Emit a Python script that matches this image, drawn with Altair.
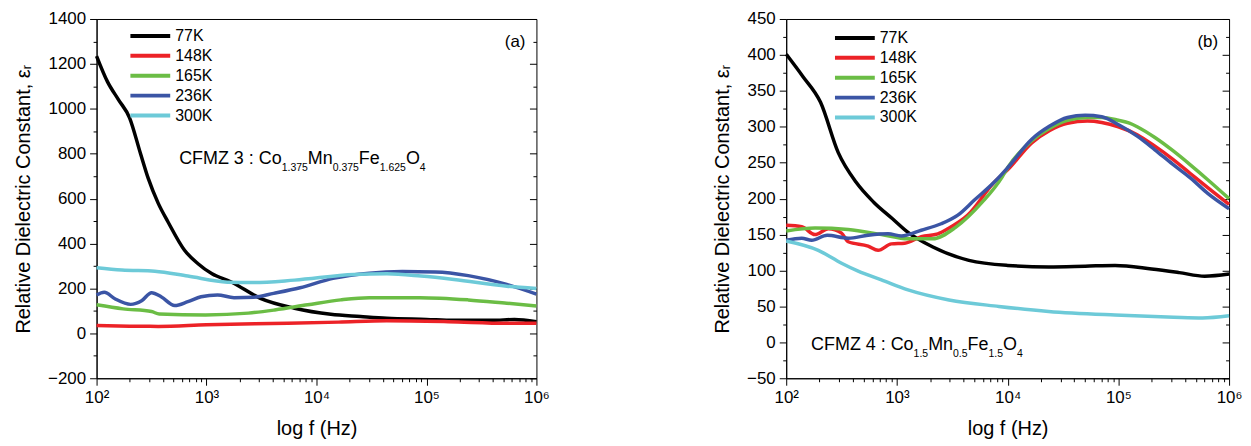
import altair as alt
import pandas as pd

TEMPS = ["77K", "148K", "165K", "236K", "300K"]
COLORS = ["#000000", "#ec2227", "#6bbd45", "#3b55a5", "#6dcad8"]

# ---------- panel (a): CFMZ 3 ----------
A77_LOGF = [2.0, 2.1, 2.2, 2.3, 2.4, 2.47, 2.56, 2.65, 2.8, 2.92, 3.05, 3.22, 3.49, 3.8, 4.13, 4.4, 4.64, 5.0, 5.25, 5.6, 5.8, 6.0]
A77_EPS = [1235, 1120, 1040, 960, 800, 690, 580, 496, 370, 311, 265, 230, 156, 112, 85, 75, 67, 62, 58, 58, 62, 52]
A148_LOGF = [2.0, 2.3, 2.56, 3.0, 3.74, 4.2, 4.64, 5.2, 5.73, 6.0]
A148_EPS = [35, 32, 31, 38, 45, 50, 56, 52, 45, 45]
A165_LOGF = [2.0, 2.24, 2.5, 2.57, 2.99, 3.38, 3.62, 3.92, 4.22, 4.48, 4.94, 5.38, 5.73, 6.0]
A165_EPS = [127, 109, 97, 86, 82, 90, 104, 127, 149, 159, 159, 149, 134, 122]
A236_LOGF = [2.0, 2.07, 2.17, 2.31, 2.41, 2.5, 2.59, 2.71, 2.83, 2.95, 3.1, 3.25, 3.43, 3.61, 3.85, 4.15, 4.48, 4.78, 5.08, 5.38, 5.73, 6.0]
A236_EPS = [171, 183, 153, 129, 145, 181, 162, 124, 141, 163, 171, 159, 161, 178, 203, 245, 268, 275, 273, 257, 218, 175]
A300_LOGF = [2.0, 2.23, 2.53, 2.83, 3.19, 3.43, 3.8, 4.34, 4.64, 4.95, 5.25, 5.73, 6.0]
A300_EPS = [292, 282, 277, 255, 228, 226, 237, 262, 265, 255, 240, 210, 200]

# ---------- panel (b): CFMZ 4 ----------
B77_LOGF = [2.0, 2.15, 2.31, 2.47, 2.63, 2.79, 2.96, 3.1, 3.32, 3.65, 4.0, 4.37, 4.7, 4.97, 5.3, 5.55, 5.78, 6.0]
B77_EPS = [401, 370, 334, 264, 223, 195, 172, 153, 133, 114, 107, 105, 106, 107, 102, 97, 92, 95]
B148_LOGF = [2.0, 2.14, 2.26, 2.38, 2.5, 2.56, 2.74, 2.83, 2.95, 3.07, 3.22, 3.37, 3.46, 3.64, 3.88, 4.0, 4.22, 4.38, 4.54, 4.72, 4.85, 5.0, 5.17, 5.33, 5.49, 5.65, 5.81, 6.0]
B148_EPS = [163, 161, 150, 158, 152, 140, 134, 128, 137, 138, 147, 151, 158, 177, 223, 240, 278, 295, 305, 308, 306, 300, 289, 273, 255, 235, 215, 192]
B165_LOGF = [2.0, 2.26, 2.56, 2.86, 3.1, 3.32, 3.53, 3.77, 3.95, 4.0, 4.22, 4.38, 4.54, 4.72, 4.85, 5.0, 5.1, 5.17, 5.33, 5.49, 5.65, 5.81, 6.0]
B165_EPS = [155, 159, 157, 150, 144, 144, 160, 195, 230, 243, 281, 298, 309, 313, 313, 309, 305, 300, 285, 267, 247, 226, 200]
B236_LOGF = [2.0, 2.14, 2.23, 2.37, 2.56, 2.74, 2.92, 3.04, 3.22, 3.4, 3.55, 3.7, 3.88, 4.0, 4.22, 4.38, 4.54, 4.7, 4.85, 5.01, 5.17, 5.33, 5.49, 5.65, 5.81, 6.0]
B236_EPS = [142, 145, 142, 149, 145, 149, 151, 148, 156, 165, 177, 198, 223, 243, 283, 301, 313, 316, 314, 302, 287, 268, 248, 229, 207, 186]
B300_LOGF = [2.0, 2.29, 2.5, 2.65, 2.86, 3.1, 3.47, 3.92, 4.37, 4.97, 5.5, 5.76, 6.0]
B300_EPS = [141, 128, 110, 99, 87, 73, 59, 50, 43, 38, 35, 34, 37]

FORMULA_A = [("CFMZ 3 : Co", False), ("1.375", True), ("Mn", False), ("0.375", True),
             ("Fe", False), ("1.625", True), ("O", False), ("4", True)]
FORMULA_B = [("CFMZ 4 : Co", False), ("1.5", True), ("Mn", False), ("0.5", True),
             ("Fe", False), ("1.5", True), ("O", False), ("4", True)]

XTICKS = [m * 10 ** k for k in range(2, 6) for m in range(1, 10)] + [10 ** 6]
FONT = "Liberation Sans"
H = 361

# Arial / Liberation Sans advance widths (per 1000 em) for placing formula pieces
ADV = {"C": 722, "F": 611, "M": 833, "Z": 611, " ": 278, ":": 278, "o": 556,
       "n": 556, "e": 556, "O": 778, ".": 278}


def text_width(s, size):
    return sum(ADV.get(ch, 556) for ch in s) * size / 1000.0


def build_df(series):
    rows = []
    for t, (lf, ev) in zip(TEMPS, series):
        for a, b in zip(lf, ev):
            rows.append({"T": t, "f": 10 ** a, "eps": b})
    return pd.DataFrame(rows)


XMAJ = "abs(log(datum.value)/LN10 - round(log(datum.value)/LN10)) < 0.001"
XLABEL = (XMAJ + " ? '10' + ['\u2070','\u00b9','\u00b2','\u00b3','\u2074','\u2075','\u2076']"
          "[round(log(datum.value)/LN10)] : ''")

# legend line: size 20px box, custom path stretched to a 40px line
LEG_S = 20
LEG_PATH = "M-1,0H3"


def panel(df, W, ydom, ystep, ymaj, legx, legy, tag, formula, fx, fy):
    xs = alt.Scale(type="log", domain=[100, 1000000], nice=False)
    ys = alt.Scale(domain=ydom, nice=False, zero=False)
    yvals = list(range(ydom[0], ydom[1] + 1, ystep))
    ytest = f"datum.value % {ymaj} == 0"
    ytick = {"condition": {"test": ytest, "value": 7}, "value": 3.5}
    xaxis = alt.Axis(values=XTICKS, labelExpr=XLABEL, labelOverlap=False, labelFlush=False,
                     tickSize={"condition": {"test": XMAJ, "value": 7}, "value": 3.5},
                     title="log f (Hz)", labelPadding=4, titlePadding=14, grid=False)
    yaxis = alt.Axis(values=yvals, labelExpr=f"{ytest} ? datum.label : ''", format="d",
                     labelOverlap=False, labelFlush=False, tickSize=ytick, labelPadding=4,
                     title="Relative Dielectric Constant, \u03b5\u1d63", titlePadding=14)
    lines = alt.Chart(df).mark_line(strokeWidth=3.5, interpolate="monotone").encode(
        x=alt.X("f:Q", scale=xs, axis=xaxis),
        y=alt.Y("eps:Q", scale=ys, axis=yaxis),
        color=alt.Color("T:N", sort=TEMPS, scale=alt.Scale(domain=TEMPS, range=COLORS),
                        legend=alt.Legend(orient="none", legendX=legx, legendY=legy, title=None,
                                          symbolType=LEG_PATH, symbolSize=LEG_S * LEG_S,
                                          symbolStrokeWidth=4, labelFontSize=16,
                                          labelFont=FONT, labelColor="black",
                                          labelOffset=2 * LEG_S - LEG_S + 3, rowPadding=0,
                                          padding=0)),
    )
    mirror = alt.Chart(df).mark_point(opacity=0).encode(
        x=alt.X("f:Q", scale=xs, axis=xaxis),
        y=alt.Y("eps:Q", scale=ys,
                axis=alt.Axis(orient="left", offset=-W, values=yvals, labels=False,
                              title=None, domain=False, tickSize=ytick, grid=False)),
    )
    base = alt.layer(lines, mirror).resolve_scale(y="independent")

    one = pd.DataFrame({"k": [0]})
    texts = [alt.Chart(one).mark_text(align="right", baseline="middle", fontSize=17,
                                      font=FONT, color="black").encode(
        x=alt.value(W - 11), y=alt.value(23), text=alt.value(tag))]
    x = fx
    for s, sub in formula:
        size = 10.5 if sub else 18
        texts.append(alt.Chart(one).mark_text(align="left", baseline="alphabetic",
                                              fontSize=size, font=FONT, color="black").encode(
            x=alt.value(x), y=alt.value(fy + (6.5 if sub else 0)), text=alt.value(s)))
        x += text_width(s, size)
    return alt.layer(base, *texts).properties(width=W, height=H)


df_a = build_df([(A77_LOGF, A77_EPS), (A148_LOGF, A148_EPS), (A165_LOGF, A165_EPS),
                 (A236_LOGF, A236_EPS), (A300_LOGF, A300_EPS)])
df_b = build_df([(B77_LOGF, B77_EPS), (B148_LOGF, B148_EPS), (B165_LOGF, B165_EPS),
                 (B236_LOGF, B236_EPS), (B300_LOGF, B300_EPS)])

pa = panel(df_a, 442, [-200, 1400], 100, 200, 32, 5, "(a)", FORMULA_A, 83, 146)
pb = panel(df_b, 445, [-50, 450], 25, 50, 47, 7, "(b)", FORMULA_B, 25, 333)

chart = alt.hconcat(pa, pb, spacing=251, bounds="flush").resolve_legend(
    color="independent"
).resolve_scale(color="independent").properties(
    padding={"left": 5, "top": 0, "right": 0, "bottom": 0}
).configure_view(stroke="black", strokeWidth=1).configure_axis(
    grid=False, domainColor="black", tickColor="black", labelColor="black",
    titleColor="black", labelFont=FONT, titleFont=FONT, labelFontSize=17,
    titleFontSize=20, titleFontWeight="normal", domainWidth=1, tickWidth=1,
)

chart.save("out.html", embed_options={"renderer": "svg", "actions": False})
